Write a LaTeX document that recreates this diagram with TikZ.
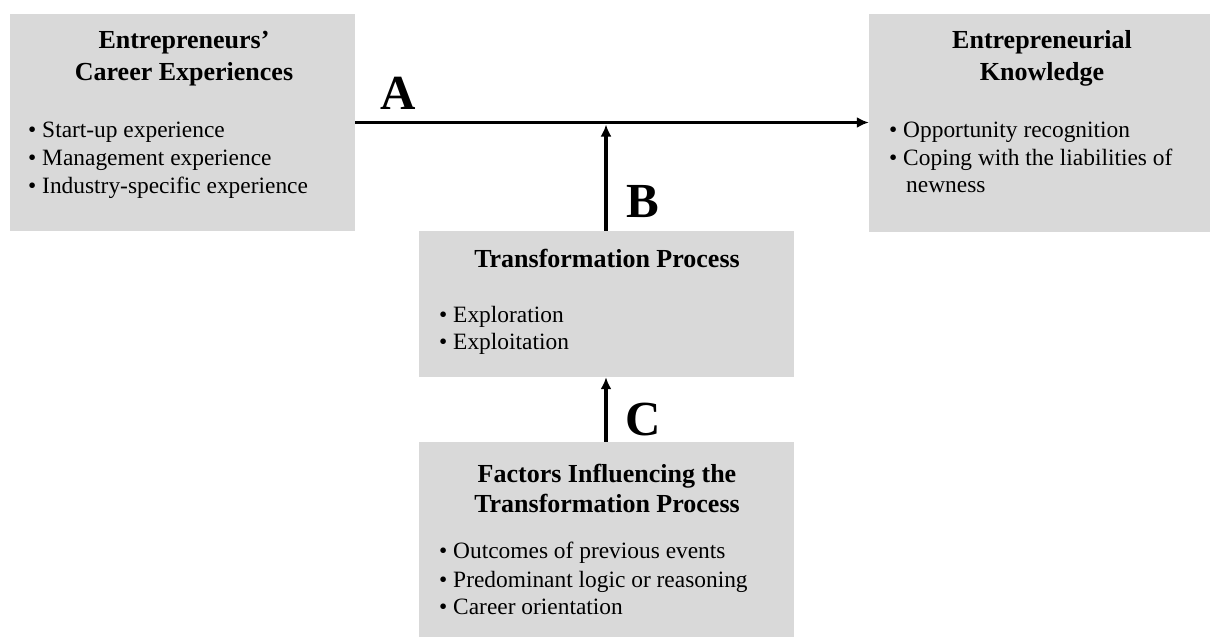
\documentclass[tikz,border=0pt]{standalone}
\usepackage{fontspec}
\setmainfont{Liberation Serif}
\usetikzlibrary{arrows.meta}
\definecolor{boxgray}{HTML}{D9D9D9}
\tikzset{
  box/.style={fill=boxgray, draw=none, inner sep=0},
  ttl/.style={font=\fontsize{26}{31}\selectfont\bfseries, inner sep=0, anchor=base},
  itm/.style={font=\fontsize{23.4}{28}\selectfont, inner sep=0, anchor=base west},
  lbl/.style={font=\fontsize{49}{58}\selectfont\bfseries, inner sep=0, anchor=base west},
  arr/.style={line width=3.2pt, -{Latex[length=12pt,width=11pt]}}
}
\begin{document}
\begin{tikzpicture}[x=1pt,y=-1pt]
\useasboundingbox (0,0) rectangle (1211,637);
% boxes
\node[box, minimum width=345pt, minimum height=217pt] (lbox) at (182.5,122.5) {};
\node[box, minimum width=341pt, minimum height=218pt] (rbox) at (1039.5,123) {};
\node[box, minimum width=375pt, minimum height=146pt] (mbox) at (606.5,304) {};
\node[box, minimum width=375pt, minimum height=195pt] (bbox) at (606.5,539.5) {};
% left box text
\node[ttl] (lt1) at (184,48) {Entrepreneurs’};
\node[ttl] (lt2) at (184,80) {Career Experiences};
\node[itm] (li1) at (28,137) {• Start-up experience};
\node[itm] (li2) at (28,165) {• Management experience};
\node[itm] (li3) at (28,193) {• Industry-specific experience};
% right box text
\node[ttl] (rt1) at (1042,48) {Entrepreneurial};
\node[ttl] (rt2) at (1042,80) {Knowledge};
\node[itm] (ri1) at (889,137) {• Opportunity recognition};
\node[itm] (ri2) at (889,165) {• Coping with the liabilities of};
\node[itm] (ri3) at (906,192) {newness};
% middle box text
\node[ttl] (mt1) at (607,267) {Transformation Process};
\node[itm] (mi1) at (439,322) {• Exploration};
\node[itm] (mi2) at (439,349) {• Exploitation};
% bottom box text
\node[ttl] (bt1) at (607,482) {Factors Influencing the};
\node[ttl] (bt2) at (607,512) {Transformation Process};
\node[itm] (bi1) at (439,558) {• Outcomes of previous events};
\node[itm] (bi2) at (439,587) {• Predominant logic or reasoning};
\node[itm] (bi3) at (439,614) {• Career orientation};
% labels
\node[lbl] (la) at (380,109) {A};
\node[lbl] (lb) at (626,217) {B};
\node[lbl] (lc) at (625,435) {C};
% connectors
\coordinate (bend) at (606,124.5);
\draw[arr] (lbox.east) -- (lbox.east -| rbox.west);
\draw[arr] (mbox.north -| bend) -- (bend);
\draw[arr] (bbox.north -| bend) -- (mbox.south -| bend);
\end{tikzpicture}
\end{document}
